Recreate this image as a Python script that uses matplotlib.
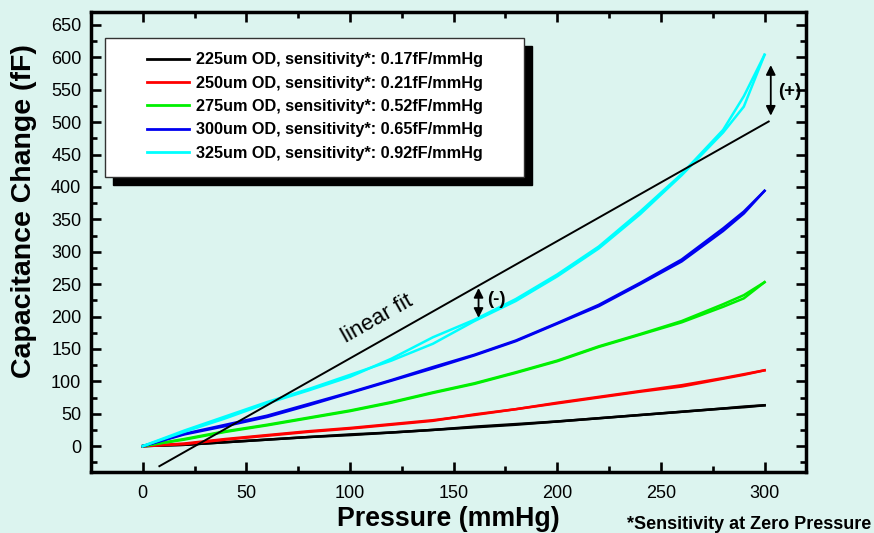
import numpy as np
import matplotlib.pyplot as plt
from matplotlib.patches import Rectangle

plt.rcParams['font.family'] = ['Liberation Sans', 'DejaVu Sans']

# pressure steps (mmHg)
p = [0, 20, 40, 60, 80, 100, 120, 140, 160, 180, 200, 220, 240, 260, 280, 290, 300]

# capacitance change (fF), loading / unloading traces
od225_up = [0, 2, 6, 10, 14, 17, 21, 25, 29, 33, 38, 43, 48, 53, 58, 60, 63]
od225_dn = [0, 2, 6, 10, 14, 18, 21, 25, 30, 34, 38, 43, 48, 53, 58, 61, 63]
od250_up = [0, 3, 10, 16, 22, 27, 33, 39, 49, 57, 66, 75, 84, 92, 104, 110, 117]
od250_dn = [0, 4, 11, 17, 23, 28, 34, 40, 48, 57, 67, 76, 85, 94, 105, 111, 117]
od275_up = [0, 10, 22, 32, 43, 54, 67, 82, 96, 113, 131, 153, 172, 191, 215, 228, 253]
od275_dn = [0, 11, 23, 33, 44, 55, 68, 83, 97, 114, 132, 154, 173, 193, 219, 233, 253]
od300_up = [0, 18, 31, 45, 63, 82, 101, 120, 140, 162, 189, 216, 250, 285, 332, 359, 394]
od300_dn = [0, 19, 33, 47, 65, 83, 102, 122, 141, 163, 190, 218, 252, 288, 336, 362, 394]
od325_up = [0, 22, 43, 66, 86, 107, 135, 168, 195, 227, 265, 308, 362, 420, 488, 540, 604]
od325_dn = [0, 24, 46, 68, 88, 110, 132, 158, 193, 224, 262, 305, 358, 418, 484, 524, 604]

labels = ['225um OD, sensitivity*: 0.17fF/mmHg',
          '250um OD, sensitivity*: 0.21fF/mmHg',
          '275um OD, sensitivity*: 0.52fF/mmHg',
          '300um OD, sensitivity*: 0.65fF/mmHg',
          '325um OD, sensitivity*: 0.92fF/mmHg']
colors = ['#000000', '#ff0000', '#00f000', '#0000f0', '#00ffff']

fit_x = [8, 302]
fit_y = [-31, 501]

bg = '#dcf4ef'
fig = plt.figure(figsize=(8.74, 5.33), dpi=100, facecolor=bg)
ax = fig.add_axes([0.1041, 0.1144, 0.8181, 0.8631], facecolor=bg)

series = [(od225_up, od225_dn), (od250_up, od250_dn), (od275_up, od275_dn),
          (od300_up, od300_dn), (od325_up, od325_dn)]
for (up, dn), c, lab in zip(series, colors, labels):
    ax.plot(p, up, color=c, lw=1.8, label=lab)
    ax.plot(p, dn, color=c, lw=1.8)

ax.plot(fit_x, fit_y, color='k', lw=1.4)
ax.text(113, 197, 'linear fit', rotation=29.5, fontsize=16,
        ha='center', va='center', rotation_mode='anchor')

# (-) and (+) markers
arw = dict(arrowstyle='<|-|>', color='k', lw=1.3, mutation_scale=14,
           shrinkA=0, shrinkB=0)
ax.annotate('', xy=(162, 198), xytext=(162, 244), arrowprops=arw)
ax.text(166, 226, '(-)', fontsize=13.5, fontweight='bold', va='center')
ax.annotate('', xy=(303, 510), xytext=(303, 588), arrowprops=arw)
ax.text(306.5, 548, '(+)', fontsize=13.5, fontweight='bold', va='center')

ax.set_xlim(-20, 320)
ax.set_ylim(-40, 670)
ax.set_xticks(np.arange(0, 301, 50))
ax.set_xticks(np.arange(-25, 320, 25), minor=True)
ax.set_yticks(np.arange(0, 651, 50))
ax.set_yticks(np.arange(-25, 670, 25), minor=True)
ax.tick_params(which='both', direction='in', top=True, right=True, width=1.9)
ax.tick_params(which='major', length=7, labelsize=13)
ax.tick_params(which='minor', length=4)
ax.tick_params(axis='x', pad=9)
ax.tick_params(axis='y', pad=7)
for s in ax.spines.values():
    s.set_linewidth(2.5)

ax.set_xlabel('Pressure (mmHg)', fontsize=19.3, fontweight='bold', labelpad=3)
fig.text(24 / 874, 1 - 211 / 533, 'Capacitance Change (fF)', fontsize=20.5,
         fontweight='bold', rotation=90, ha='center', va='center')

# legend box with solid shadow
bx, by, bw, bh = 0.0196, 0.6413, 0.586, 0.302
ax.add_patch(Rectangle((bx + 0.0105, by - 0.0163), bw, bh, transform=ax.transAxes,
                       facecolor='k', edgecolor='k', zorder=4))
ax.add_patch(Rectangle((bx, by), bw, bh, transform=ax.transAxes,
                       facecolor='white', edgecolor='#333333', lw=1, zorder=5))
leg = ax.legend(loc='upper left', bbox_to_anchor=(0.078, 0.912), frameon=False,
                borderpad=0, borderaxespad=0, handlelength=2.6, handletextpad=0.4,
                labelspacing=0.51, prop={'weight': 'bold', 'size': 11.7})
leg.set_zorder(6)
for h in leg.get_lines():
    h.set_linewidth(2)

fig.text(0.997, 0.008, '*Sensitivity at Zero Pressure', fontsize=13,
         fontweight='bold', ha='right', va='baseline')

fig.savefig('out.png', dpi=100, facecolor=bg)
